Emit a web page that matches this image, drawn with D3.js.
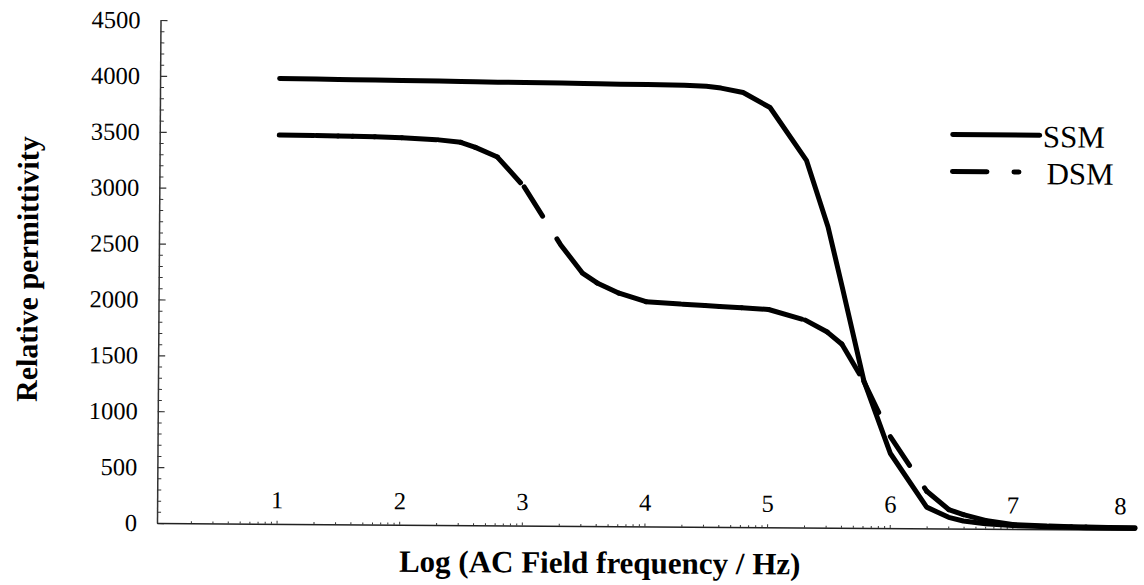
<!DOCTYPE html>
<html>
<head>
<meta charset="utf-8">
<script src="https://cdn.jsdelivr.net/npm/d3@7"></script>
<style>
  html, body { margin: 0; padding: 0; background: #fff; }
  svg { display: block; }
  text { font-family: "Liberation Serif", "Times New Roman", serif; fill: #000; }
</style>
</head>
<body>
<svg id="chart" width="1144" height="585"></svg>
<script>
// log10 of the AC field frequency (Hz)
const logFreq = [1, 1.3, 1.48, 1.6, 1.78, 2, 2.3, 2.48, 2.6, 2.78,
                 3, 3.3, 3.48, 3.6, 3.78, 4, 4.3, 4.48, 4.6, 4.78,
                 5, 5.3, 5.48, 5.6, 5.78, 6, 6.3, 6.48, 6.6, 6.78,
                 7, 7.3, 7.48, 7.6, 7.78, 8];
// relative permittivity, single-stage milling
const ssm = [3985, 3982, 3980, 3978, 3976, 3974, 3971, 3969, 3967, 3965,
             3963, 3961, 3959, 3957, 3955, 3953, 3950, 3942, 3926, 3888,
             3755, 3285, 2690, 2150, 1320, 670, 190, 100, 68, 45,
             30, 22, 18, 16, 15, 13];
// relative permittivity, double-stage milling
const dsm = [3478, 3476, 3474, 3472, 3468, 3462, 3445, 3425, 3380, 3295,
             3030, 2515, 2262, 2175, 2085, 2010, 1990, 1980, 1972, 1963,
             1948, 1855, 1750, 1642, 1312, 818, 332, 170, 125, 75,
             40, 28, 24, 22, 20, 18];
const seriesNames = ["SSM", "DSM"];
const yTicks = [0, 500, 1000, 1500, 2000, 2500, 3000, 3500, 4000, 4500];
const xTicks = [1, 2, 3, 4, 5, 6, 7, 8];
const xTitle = "Log (AC Field frequency / Hz)";
const yTitle = "Relative permittivity";

const svg = d3.select("#chart");
const ox = 157, oy = 523;
// the whole figure sits very slightly tilted on the page
const root = svg.append("g").attr("transform", `rotate(0.4,${ox},${oy})`);

const x = d3.scaleLinear().domain([0.025, 8]).range([ox, 1135]);
const y = d3.scaleLinear().domain([0, 4500]).range([oy, 20]);

const LW = 5;
// long dash, gap, short dash, gap (round caps add half a width at each end)
const dashPattern = "34.5,27,5,25";

// ---- y axis: labels on the left, ticks pointing inward
const yMinor = d3.range(0, 4501, 100).filter(v => v % 500 !== 0);
root.append("g").attr("transform", `translate(${ox},0)`)
  .call(d3.axisLeft(y).tickValues(yMinor).tickSize(-4).tickSizeOuter(0).tickFormat(""))
  .call(g => g.select(".domain").remove())
  .call(g => g.selectAll("line").attr("stroke", "#333").attr("stroke-width", 1));
root.append("g").attr("transform", `translate(${ox},0)`)
  .call(d3.axisLeft(y).tickValues(yTicks).tickSize(-7).tickSizeOuter(0).tickPadding(20).tickFormat(d3.format("d")))
  .call(g => g.select(".domain").attr("stroke", "#333").attr("stroke-width", 1.5))
  .call(g => g.selectAll("line").attr("stroke", "#333").attr("stroke-width", 1.2))
  .call(g => g.selectAll("text").attr("font-size", 24.5).attr("font-family", "Liberation Serif"));

// ---- x axis: labels sit just above the baseline
const xMinor = [];
for (let d = 0; d < 8; d++) for (let k = 2; k <= 9; k++) xMinor.push(d + Math.log10(k));
root.append("g").attr("transform", `translate(0,${oy})`)
  .call(d3.axisTop(x).tickValues(xMinor.filter(v => v > 0.05)).tickSize(2).tickSizeOuter(0).tickFormat(""))
  .call(g => g.select(".domain").remove())
  .call(g => g.selectAll("line").attr("stroke", "#333").attr("stroke-width", 1));
const xAxis = root.append("g").attr("transform", `translate(0,${oy})`)
  .call(d3.axisTop(x).tickValues(xTicks).tickSize(3).tickSizeOuter(0).tickPadding(12.5).tickFormat(d3.format("d")))
  .call(g => g.select(".domain").attr("stroke", "#222").attr("stroke-width", 1.5))
  .call(g => g.selectAll("line").attr("stroke", "#333").attr("stroke-width", 1))
  .call(g => g.selectAll("text").attr("font-size", 24.5).attr("font-family", "Liberation Serif"));
// keep the last label inside the frame
xAxis.selectAll(".tick").filter(d => d === d3.max(xTicks)).select("text")
  .attr("text-anchor", "end").attr("x", -9);

// ---- curves
const pts = (vals) => logFreq.map((f, i) => [f, vals[i]]);
const line = d3.line().x(d => x(d[0])).y(d => y(d[1]));

root.append("path")
  .datum(pts(ssm))
  .attr("d", line)
  .attr("fill", "none")
  .attr("stroke", "#000")
  .attr("stroke-width", LW)
  .attr("stroke-linejoin", "round")
  .attr("stroke-linecap", "round");

// the dash pattern restarts on every segment between measured points
const dsmPts = pts(dsm);
root.append("g").selectAll("path")
  .data(d3.pairs(dsmPts))
  .join("path")
  .attr("d", d => line(d))
  .attr("fill", "none")
  .attr("stroke", "#000")
  .attr("stroke-width", LW)
  .attr("stroke-linecap", "round")
  .attr("stroke-dasharray", dashPattern);

// ---- legend
const legend = root.append("g").attr("transform", "translate(950,129)");
const rows = legend.selectAll("g").data(seriesNames).join("g")
  .attr("transform", (d, i) => `translate(0,${i * 37})`);
rows.append("line")
  .attr("x1", 0).attr("x2", 87).attr("y1", 0).attr("y2", 0)
  .attr("stroke", "#000").attr("stroke-width", LW)
  .attr("stroke-linecap", "round")
  .attr("stroke-dasharray", (d, i) => i === 0 ? null : dashPattern);
rows.append("text")
  .attr("x", (d, i) => i === 0 ? 90 : 94)
  .attr("y", 12)
  .attr("font-size", 31)
  .text(d => d);

// ---- axis titles
root.append("text")
  .attr("x", 600).attr("y", 570)
  .attr("text-anchor", "middle")
  .attr("font-size", 31).attr("font-weight", "bold")
  .text(xTitle);
root.append("text")
  .attr("transform", "translate(36,270) rotate(-90)")
  .attr("text-anchor", "middle")
  .attr("font-size", 30).attr("font-weight", "bold")
  .text(yTitle);
</script>
</body>
</html>
